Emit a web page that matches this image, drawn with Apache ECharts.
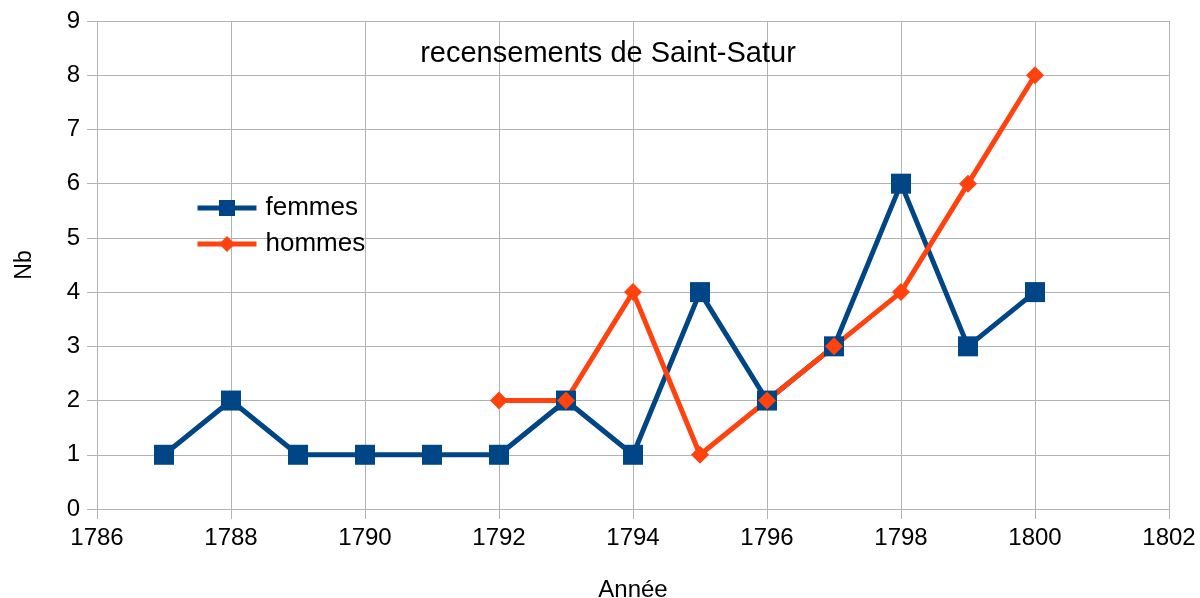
<!DOCTYPE html>
<html>
<head>
<meta charset="utf-8">
<style>
html, body { margin:0; padding:0; background:#fff; }
#chart { width:1200px; height:598px; }
</style>
<script src="https://cdn.jsdelivr.net/npm/echarts@6/dist/echarts.min.js"></script>
</head>
<body>
<div id="chart"></div>
<script>
const femmesYears = [1787, 1788, 1789, 1790, 1791, 1792, 1793, 1794, 1795, 1796, 1797, 1798, 1799, 1800];
const femmesValues = [1, 2, 1, 1, 1, 1, 2, 1, 4, 2, 3, 6, 3, 4];
const hommesYears = [1792, 1793, 1794, 1795, 1796, 1797, 1798, 1799, 1800];
const hommesValues = [2, 2, 4, 1, 2, 3, 4, 6, 8];

const font = 'Liberation Sans';
const gridColor = '#b3b3b3';

const chart = echarts.init(document.getElementById('chart'));
chart.setOption({
  animation: false,
  color: ['#004586', '#ff420e'],
  title: {
    text: 'recensements de Saint-Satur',
    left: 603, top: 34, textAlign: 'center',
    textStyle: { fontFamily: font, fontSize: 29, fontWeight: 'normal', color: '#000' }
  },
  legend: {
    orient: 'vertical',
    left: 195, top: 195, padding: 0,
    itemWidth: 59, itemHeight: 20, itemGap: 10,
    lineStyle: { width: 5 },
    textStyle: { fontFamily: font, fontSize: 26, color: '#000', padding: [0, 0, 0, 4] }
  },
  grid: { left: 97, right: 31, top: 21, bottom: 89, containLabel: false, outerBoundsMode: 'none' },
  xAxis: {
    type: 'value', min: 1786, max: 1802, interval: 2,
    name: 'Année', nameLocation: 'middle', nameGap: 69,
    nameTextStyle: { fontFamily: font, fontSize: 24, color: '#000' },
    axisLine: { show: false },
    axisTick: { show: true, length: 10, lineStyle: { color: gridColor } },
    axisLabel: { fontFamily: font, fontSize: 24, color: '#000', margin: 17, formatter: v => String(v) },
    splitLine: { show: true, lineStyle: { color: gridColor, width: 1 } }
  },
  yAxis: {
    type: 'value', min: 0, max: 9, interval: 1,
    name: 'Nb', nameLocation: 'middle', nameGap: 61,
    nameTextStyle: { fontFamily: font, fontSize: 23, color: '#000' },
    axisLine: { show: false },
    axisTick: { show: true, length: 10, lineStyle: { color: gridColor } },
    axisLabel: { fontFamily: font, fontSize: 24, color: '#000', margin: 17 },
    splitLine: { show: true, lineStyle: { color: gridColor, width: 1 } }
  },
  series: [
    {
      name: 'femmes', type: 'line',
      data: femmesYears.map((y, i) => [y, femmesValues[i]]),
      symbol: 'rect', symbolSize: 20,
      lineStyle: { width: 5 },
      itemStyle: { color: '#004586' }
    },
    {
      name: 'hommes', type: 'line',
      data: hommesYears.map((y, i) => [y, hommesValues[i]]),
      symbol: 'diamond', symbolSize: 18,
      lineStyle: { width: 5 },
      itemStyle: { color: '#ff420e' }
    }
  ]
});
</script>
</body>
</html>
